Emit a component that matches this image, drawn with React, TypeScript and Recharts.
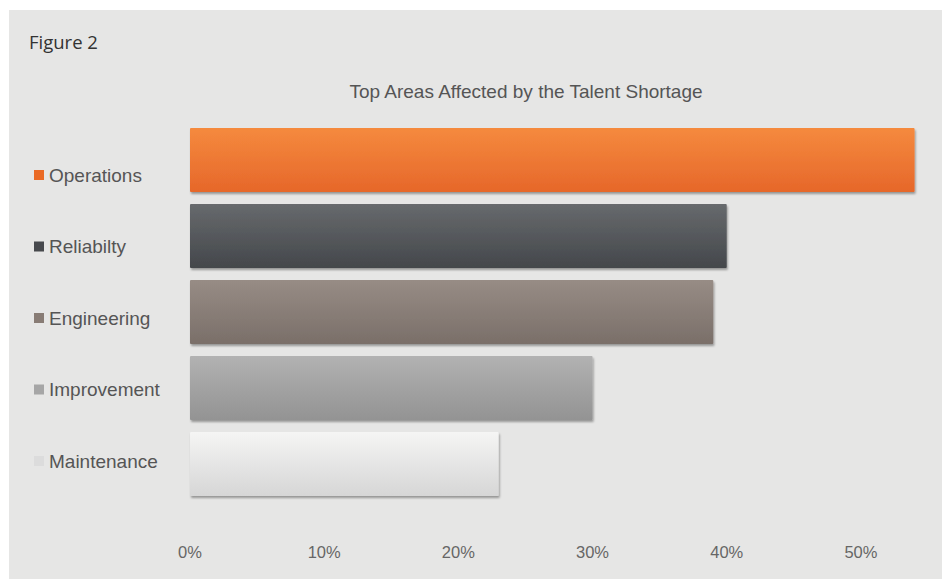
import { BarChart, Bar, XAxis, YAxis, Cell } from "recharts"

const areas = ["Operations", "Reliabilty", "Engineering", "Improvement", "Maintenance"]
const shares = [54, 40, 39, 30, 23]
const xTicks = [0, 10, 20, 30, 40, 50]

const gradTop = ["#f58a3e", "#676a6d", "#978c85", "#b2b2b2", "#f5f5f4"]
const gradBottom = ["#e6672a", "#44474b", "#7a6f69", "#939393", "#d6d6d6"]
const swatch = ["#ea6a25", "#47494d", "#887c75", "#a6a6a6", "#dcdcdc"]

const data = areas.map((name, i) => ({ name, value: shares[i] }))

const font = "'Liberation Sans', Arial, sans-serif"

function AreaTick(props: any) {
  const { x, y, payload, index } = props
  // labels sit on a slightly tighter pitch than the bars
  const ly = y + 15 - index * 4.5
  return (
    <g>
      <rect x={x - 156} y={ly - 5} width={10} height={10} fill={swatch[index]} />
      <text x={x - 141} y={ly} dominantBaseline="central" fontSize={19} fill="#555" fontFamily={font}>
        {payload.value}
      </text>
    </g>
  )
}

function PctTick(props: any) {
  const { x, y, payload } = props
  return (
    <text x={x} y={y + 50} textAnchor="middle" dominantBaseline="central" fontSize={16.5} fill="#666" fontFamily={font}>
      {`${payload.value}%`}
    </text>
  )
}

export default function App() {
  return (
    <div style={{ position: "absolute", left: 9, top: 10, width: 933, height: 569, background: "#e6e6e5" }}>
      <div style={{ position: "absolute", left: 20, top: 19, fontFamily: "'Open Sans', sans-serif", fontSize: 18.5, color: "#333" }}>
        Figure 2
      </div>
      <div style={{ position: "absolute", left: 0, width: 1034, top: 71, textAlign: "center", fontFamily: font, fontSize: 19, color: "#555" }}>
        Top Areas Affected by the Talent Shortage
      </div>
      <BarChart
        width={933}
        height={569}
        data={data}
        layout="vertical"
        margin={{ top: 112, right: 14, left: 0, bottom: 27 }}
        barSize={64}
      >
        <defs>
          {gradTop.map((c, i) => (
            <linearGradient key={i} id={`barGrad${i}`} x1="0" y1="0" x2="0" y2="1">
              <stop offset="0%" stopColor={c} />
              <stop offset="100%" stopColor={gradBottom[i]} />
            </linearGradient>
          ))}
          <filter id="barShadow" x="-5%" y="-10%" width="110%" height="130%">
            <feDropShadow dx={1} dy={2} stdDeviation={1.2} floodColor="#000" floodOpacity={0.35} />
          </filter>
        </defs>
        <XAxis
          type="number"
          domain={[0, 55]}
          ticks={xTicks}
          axisLine={false}
          tickLine={false}
          tickSize={0}
          tickMargin={0}
          height={50}
          tick={<PctTick />}
        />
        <YAxis
          type="category"
          dataKey="name"
          width={181}
          axisLine={false}
          tickLine={false}
          tickSize={0}
          tickMargin={0}
          tick={<AreaTick />}
        />
        <Bar dataKey="value" isAnimationActive={false} radius={1} filter="url(#barShadow)">
          {data.map((d, i) => (
            <Cell key={d.name} fill={`url(#barGrad${i})`} />
          ))}
        </Bar>
      </BarChart>
    </div>
  )
}
